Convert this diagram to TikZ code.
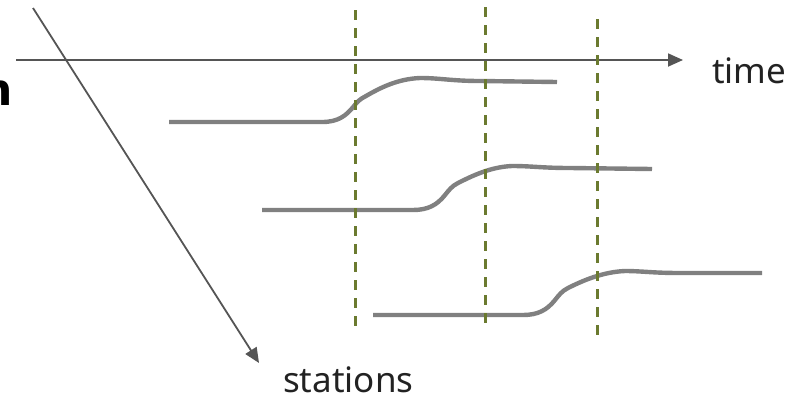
\documentclass[tikz,border=0pt]{standalone}
\usepackage{fontspec}
\setmainfont{Noto Sans}
\newfontfamily\boldletter{DejaVu Sans}
\usetikzlibrary{arrows.meta}
\definecolor{axisgray}{HTML}{555555}
\definecolor{curvegray}{HTML}{808080}
\definecolor{olive}{HTML}{6B7A2F}
\definecolor{txt}{HTML}{222222}
\tikzset{
  axis/.style={draw=axisgray, line width=1.8pt, -{Triangle[length=15pt,width=13pt]}},
  signal/.style={draw=curvegray, line width=4.4pt, line cap=butt},
  marker/.style={draw=olive, line width=3pt, dash pattern=on 10pt off 8pt},
  label/.style={text=txt, inner sep=0pt, font=\fontsize{35}{40}\selectfont},
}
\begin{document}
\begin{tikzpicture}[x=1pt,y=-1pt]
\useasboundingbox (0,0) rectangle (789,397);
% clipped bold letter at the left edge
\node[anchor=base east, inner sep=0pt, text=black, font=\boldletter\bfseries\fontsize{44}{50}\selectfont] (cut) at (13,105) {n};
% axes
\coordinate (t0) at (16,60);
\coordinate (t1) at (683,60);
\coordinate (s0) at (33,8);
\coordinate (s1) at (259,363);
\draw[axis] (t0) -- (t1);
\draw[axis] (s0) -- (s1);
\node[label, anchor=base west] (time) at (712,83) {time};
\node[label, anchor=base west] (stations) at (283,392) {stations};
% dashed markers
\coordinate (d1a) at (355,10); \coordinate (d1b) at (355,329);
\coordinate (d2a) at (485,7);  \coordinate (d2b) at (485,326);
\coordinate (d3a) at (597,19); \coordinate (d3b) at (597,338);
% signals
\draw[signal] (169,122) -- (322,122) .. controls (338,122) and (346,116) .. (354,106)
  .. controls (357,102) and (360,99) .. (366,96)
  .. controls (380,88) and (397,79) .. (420,78)
  .. controls (440,78) and (452,81) .. (480,81) -- (557,82);
\draw[signal] (262,210) -- (413,210) .. controls (428,210) and (437,205) .. (445,195)
  .. controls (449,190) and (452,186) .. (458,183)
  .. controls (472,176) and (490,167) .. (512,166)
  .. controls (532,166) and (542,168) .. (570,168) -- (652,169);
\draw[signal] (373,315) -- (523,315) .. controls (538,315) and (547,310) .. (555,300)
  .. controls (559,295) and (562,291) .. (568,288)
  .. controls (582,281) and (602,272) .. (625,271)
  .. controls (642,271) and (652,273) .. (680,273) -- (762,273);
\draw[marker] (d1a) -- (d1b);
\draw[marker] (d2a) -- (d2b);
\draw[marker] (d3a) -- (d3b);
\end{tikzpicture}
\end{document}
